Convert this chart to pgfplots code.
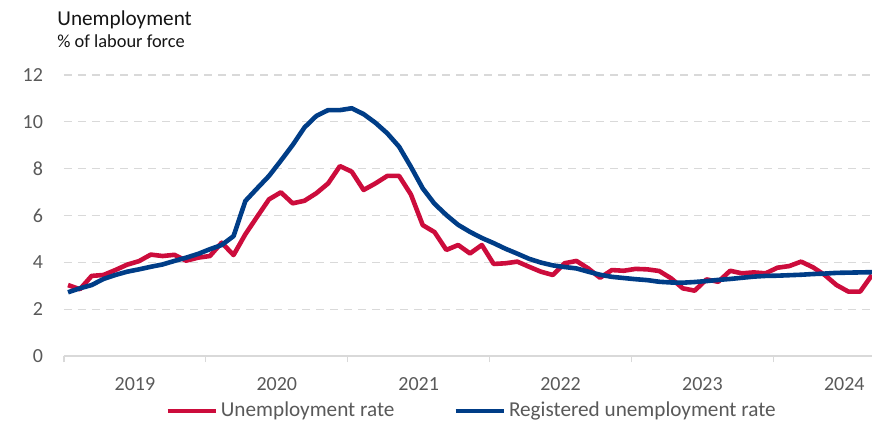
\documentclass[border=0pt]{standalone}
\usepackage{pgfplots}
\pgfplotsset{compat=1.18}
\usepackage{fontspec}
\setmainfont{Carlito}
\definecolor{cred}{RGB}{204,12,60}
\definecolor{cblue}{RGB}{0,61,135}
\definecolor{cgrid}{RGB}{217,217,217}
\definecolor{ctxt}{RGB}{89,89,89}
\begin{document}
\begin{tikzpicture}
\path[use as bounding box] (-32pt,-33.5pt) rectangle (404pt,178pt);
\begin{axis}[
  at={(0,0)}, anchor=south west,
  scale only axis, width=404pt, height=140.5pt,
  xmin=-0.34, xmax=68, ymin=0, ymax=12,
  axis lines*=left,
  y axis line style={draw=none},
  x axis line style={draw=cgrid, line width=0.6pt},
  ytick={0,2,...,12},
  ymajorgrids, grid style={cgrid, dashed, line width=0.6pt, dash pattern=on 4pt off 3pt},
  xtick={5.66,17.66,29.66,41.66,53.66,65.66},
  xticklabels={2019,2020,2021,2022,2023,2024},
  minor xtick={-0.34,11.66,23.66,35.66,47.66,59.66},
  major tick length=0pt, minor tick length=3pt,
  tick align=outside,
  minor tick style={draw=cgrid, line width=0.6pt},
  major tick style={draw=none},
  tick label style={font=\fontsize{10}{12}\selectfont, text=ctxt},
  /pgf/number format/assume math mode=true,
  yticklabel style={xshift=-7pt},
  xticklabel style={yshift=-7pt},
  legend style={at={(0.5,0)}, anchor=center, xshift=2pt, yshift=-27.5pt, draw=none, fill=none,
    legend columns=2, font=\fontsize{10.6}{12}\selectfont, text=ctxt,
    /tikz/every even column/.append style={column sep=28pt},
    nodes={inner sep=1.5pt}},
  legend image code/.code={\draw[#1, line width=2.3pt] (0pt,0pt) -- (24pt,0pt);},
  every axis plot/.append style={line width=2.3pt, line join=round},
]
\addplot[cred, no marks] coordinates {
(0,3.03)(1,2.85)(2,3.42)(3,3.46)(4,3.67)(5,3.90)(6,4.05)(7,4.33)(8,4.27)(9,4.32)
(10,4.07)(11,4.20)(12,4.27)(13,4.84)(14,4.31)(15,5.20)(16,5.95)(17,6.69)(18,6.99)(19,6.52)
(20,6.63)(21,6.95)(22,7.37)(23,8.11)(24,7.87)(25,7.09)(26,7.37)(27,7.69)(28,7.69)(29,6.90)
(30,5.59)(31,5.29)(32,4.53)(33,4.74)(34,4.38)(35,4.74)(36,3.93)(37,3.96)(38,4.03)(39,3.81)
(40,3.60)(41,3.46)(42,3.96)(43,4.06)(44,3.74)(45,3.34)(46,3.67)(47,3.64)(48,3.72)(49,3.70)
(50,3.63)(51,3.32)(52,2.89)(53,2.79)(54,3.27)(55,3.17)(56,3.64)(57,3.53)(58,3.57)(59,3.53)
(60,3.77)(61,3.84)(62,4.03)(63,3.79)(64,3.46)(65,3.03)(66,2.75)(67,2.75)(68,3.46)
};
\addlegendentry{Unemployment rate}
\addplot[cblue, no marks] coordinates {
(0,2.72)(1,2.89)(2,3.03)(3,3.29)(4,3.46)(5,3.60)(6,3.70)(7,3.81)(8,3.91)(9,4.06)
(10,4.20)(11,4.36)(12,4.56)(13,4.74)(14,5.12)(15,6.62)(16,7.16)(17,7.69)(18,8.34)(19,9.01)
(20,9.76)(21,10.25)(22,10.50)(23,10.50)(24,10.58)(25,10.33)(26,9.96)(27,9.51)(28,8.94)(29,8.08)
(30,7.16)(31,6.50)(32,6.02)(33,5.60)(34,5.30)(35,5.04)(36,4.82)(37,4.58)(38,4.37)(39,4.15)
(40,3.99)(41,3.87)(42,3.80)(43,3.74)(44,3.60)(45,3.47)(46,3.38)(47,3.33)(48,3.28)(49,3.24)
(50,3.17)(51,3.14)(52,3.13)(53,3.16)(54,3.20)(55,3.25)(56,3.29)(57,3.34)(58,3.39)(59,3.42)
(60,3.43)(61,3.45)(62,3.47)(63,3.50)(64,3.52)(65,3.55)(66,3.56)(67,3.57)(68,3.58)
};
\addlegendentry{Registered unemployment rate}
\end{axis}
\node[anchor=base west, inner sep=0pt, font=\fontsize{10.6}{12}\selectfont, text=black!92] at (-3.5pt,165pt) {Unemployment};
\node[anchor=base west, inner sep=0pt, font=\fontsize{9.2}{11}\selectfont, text=black!92] at (-3.5pt,154pt) {\% of labour force};
\end{tikzpicture}
\end{document}
